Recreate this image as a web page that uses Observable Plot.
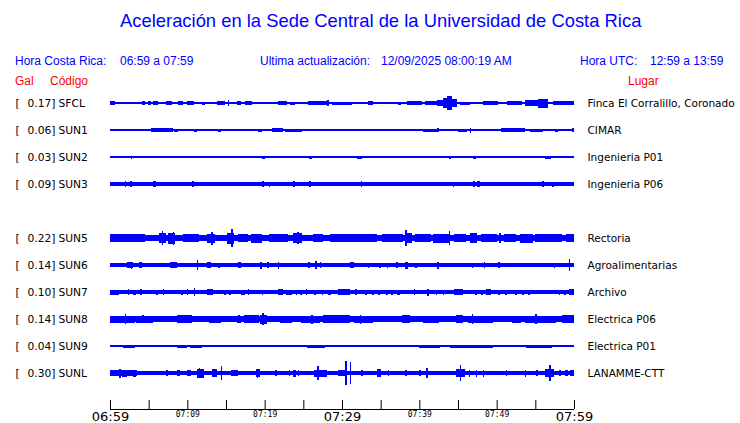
<!DOCTYPE html>
<html>
<head>
<meta charset="utf-8">
<script src="https://cdn.jsdelivr.net/npm/d3@7"></script>
<script src="https://cdn.jsdelivr.net/npm/@observablehq/plot@0.6"></script>
<style>
  html, body { margin: 0; padding: 0; background: #fff; }
  #wrap { position: relative; width: 740px; height: 423px; overflow: hidden; }
  #head { position: relative; width: 740px; height: 88px; font-family: "Liberation Sans", Arial, sans-serif; }
  #head div { position: absolute; white-space: pre; line-height: 1; }
  .blue { color: #0000ff; }
  .red { color: #ff0000; }
  #chart svg { display: block; }
</style>
</head>
<body>
<div id="wrap">
  <div id="head">
    <div class="blue" style="left:120px; top:12px; font-size:18.4px;">Aceleración en la Sede Central de la Universidad de Costa Rica</div>
    <div class="blue" style="left:15px; top:55px; font-size:12px;">Hora Costa Rica:</div>
    <div class="blue" style="left:120px; top:55px; font-size:12px;">06:59 a 07:59</div>
    <div class="blue" style="left:260px; top:55px; font-size:12px;">Ultima actualización:</div>
    <div class="blue" style="left:381px; top:55px; font-size:12px;">12/09/2025 08:00:19 AM</div>
    <div class="blue" style="left:580px; top:55px; font-size:12px;">Hora UTC:</div>
    <div class="blue" style="left:650px; top:55px; font-size:12px;">12:59 a 13:59</div>
    <div class="red" style="left:15px; top:75px; font-size:12px;">Gal</div>
    <div class="red" style="left:50px; top:75px; font-size:12px;">Código</div>
    <div class="red" style="left:628px; top:75px; font-size:12px;">Lugar</div>
  </div>
  <div id="chart"></div>
</div>
<script>
// ---- data ----
const stations = ["SFCL", "SUN1", "SUN2", "SUN3", "SUN5", "SUN6", "SUN7", "SUN8", "SUN9", "SUNL"];
const rowIndex = [0, 1, 2, 3, 5, 6, 7, 8, 9, 10];
const galValues = [0.17, 0.06, 0.03, 0.09, 0.22, 0.14, 0.10, 0.14, 0.04, 0.30];
const places = ["Finca El Corralillo, Coronado", "CIMAR", "Ingenieria P01", "Ingenieria P06",
  "Rectoria", "Agroalimentarias", "Archivo", "Electrica P06", "Electrica P01", "LANAMME-CTT"];
// background noise half-amplitude of each trace
const noiseAmp = [0.75, 0.75, 0.6, 1.8, 3.0, 1.8, 1.8, 2.8, 0.7, 2.2];
// bursts: [start minute, end minute, half-amplitude], minutes after 06:59
const burstsSFCL = [[0,0.6,2.3],[3.0,3.1,1.2],[4.1,4.5,2],[4.9,5.3,1.8],[5.6,6.2,2],[7.2,8.0,1.8],[8.8,9.4,2.2],[10.0,10.9,2.2],[11.9,12.3,1.5],[12.7,13.3,1],[13.8,14.9,2.2],[15.2,15.4,3.3],[16.4,16.9,2],[17.5,18.4,1.8],[19.1,19.3,1.2],[20.0,20.2,1.2],[20.7,21.0,1.2],[21.7,22.9,2],[23.3,23.9,1.5],[24.8,25.0,1],[25.6,28.3,1.8],[28.1,28.3,3],[28.7,30.4,1.5],[29.7,31.3,1.5],[33.4,34.0,2],[34.5,34.7,1.2],[35.5,35.7,1.2],[36.3,36.6,1.2],[37.3,37.6,1.5],[38.4,40.3,2],[40.7,42.3,2.2],[42.3,43.0,3],[43.0,43.6,5],[43.6,44.2,6.7],[44.2,44.9,4],[45.3,46.6,1.5],[47.0,47.8,1.2],[48.2,50.2,2],[51.3,53.3,2.2],[53.7,55.4,3],[55.4,56.6,4.5],[57.3,60,1.8]];
const burstsSUN1 = [[0.3,0.6,1.3],[1.5,2.0,1.3],[2.8,3.2,1.2],[3.8,4.7,1.3],[5.3,8.1,1.8],[6.5,6.9,2.3],[8.3,8.8,1.5],[9.7,10.0,1.2],[10.8,11.3,1.5],[11.9,12.2,1.2],[14.0,14.4,1.5],[15.8,16.6,1.3],[17.6,17.8,1],[19.1,19.6,1.5],[20.9,22.4,1.8],[22.0,22.3,2.4],[22.6,24.8,1.5],[25.9,26.2,1.3],[27.6,27.8,1],[28.8,29.0,1],[31.2,31.4,1.3],[33.2,33.5,1.2],[33.8,35.2,1.2],[35.7,36.2,1.2],[38.5,40.5,1.3],[40.5,42.6,1.5],[42.3,42.5,2],[45.0,46.2,1.5],[46.5,46.7,2.5],[48.0,48.4,1.3],[49.5,50.2,1.3],[50.5,53.7,1.7],[53.0,53.4,2.2],[54.3,56.0,1.5],[57.5,57.9,1.5],[59.0,59.2,1.2],[59.8,60,2]];
const burstsSUN2 = [[1.8,2.2,1.3],[2.7,2.9,1.5],[3.8,3.9,1],[10.8,11.0,1.3],[11.6,11.8,1.3],[19.6,20.0,1.5],[20.3,20.5,1.3],[23.7,23.9,1.3],[24.9,25.1,1],[25.7,26.1,1.5],[26.3,26.6,1.3],[27.0,27.1,1],[32.0,32.6,1.5],[33.3,33.4,1],[34.7,34.9,1.3],[37.7,37.9,1.3],[43.9,44.1,1.5],[44.7,45.0,1.3],[46.2,46.4,1],[47.0,47.3,1.5],[47.6,47.8,1.3],[51.6,51.8,1],[55.3,55.5,1.3],[55.8,56.0,1.3],[56.2,57.0,1.5],[59.3,59.5,1.2]];
const burstsSUN3 = [[1.9,2.1,3],[2.6,2.8,2.8],[5.6,5.9,2.8],[10.6,10.8,2.8],[19.7,19.9,3],[20.6,20.7,2.5],[23.7,23.9,2.8],[25.7,26.0,3],[32.4,32.6,3.3],[41.5,41.6,2.3],[44.3,44.5,2.5],[46.9,47.2,3.3],[47.5,47.8,2.8],[52.1,52.2,2.3],[55.8,56.1,3],[57.2,57.4,2.5]];
const burstsSUN5 = [[0,4.5,3.8],[6.4,7.2,5],[6.7,6.9,7],[7.5,8.4,5.5],[8.1,8.3,6.5],[9.5,11.5,3.6],[12.5,13.6,4.5],[13.1,13.3,6.5],[15.1,16.0,5.5],[15.7,15.9,9],[16.5,17.8,3.6],[18.2,19.6,4.5],[20.5,23.0,3.6],[23.6,24.8,5],[24.2,24.4,6.3],[26.3,27.6,4.2],[28.5,34.5,3.6],[35.2,37.9,4.2],[38.2,38.4,8],[38.4,39.0,5],[39.5,41.5,3.6],[41.8,44.0,4.5],[43.8,44.0,6.8],[44.5,46.0,3.6],[46.5,47.5,5],[48.0,50.0,3.6],[50.3,50.5,5],[51.0,52.5,3.6],[53.0,54.7,4.5],[55.0,58.5,3.7],[59.0,60,4.3]];
const burstsSUN6 = [[0,0.9,2.2],[2.2,3.0,3],[2.7,2.9,3.5],[3.8,4.1,3],[7.8,8.7,3.3],[11.2,11.4,5],[12.6,12.8,3],[12.8,13.1,3.2],[14.0,14.2,2.5],[16.5,17.0,3],[19.4,19.7,3.5],[20.3,20.5,2.8],[21.7,21.9,3.5],[25.6,25.8,2.8],[26.5,26.8,3.8],[27.1,27.3,2.8],[31.0,31.5,3],[33.3,33.5,2.5],[34.8,35.0,2.5],[35.8,36.0,2.5],[37.0,37.2,2.8],[38.2,38.5,3.5],[39.5,39.7,2.5],[42.3,42.6,3.5],[46.8,47.0,2.5],[48.3,48.5,3],[50.2,50.4,2.8],[57.4,57.6,2.5],[59.3,59.5,6]];
const burstsSUN7 = [[0,1.2,2.5],[2.3,2.5,3],[3.0,3.4,2.5],[3.9,4.1,3],[6.0,6.2,2.5],[6.8,7.0,2.8],[9.2,9.4,2.5],[9.9,10.1,2.8],[10.8,11.0,4],[12.5,13.3,3],[14.8,15.0,2.5],[15.4,15.6,2.5],[16.9,17.5,2.5],[17.8,18.0,3],[19.7,19.8,2.5],[21.7,22.4,3],[22.8,23.5,2.5],[24.0,24.2,2.5],[24.6,24.8,2.5],[25.3,25.5,2.8],[26.4,26.6,2.5],[27.4,27.6,2.5],[28.2,28.6,2.5],[29.5,31.0,2.8],[31.7,32.0,3],[33.0,33.2,2.5],[33.9,34.1,2.5],[34.7,34.9,2.5],[35.7,35.9,2.5],[36.4,36.6,2.5],[37.1,37.5,2.5],[39.3,39.5,2.8],[41.0,41.2,3.5],[42.1,42.3,2.5],[43.0,43.2,2.5],[44.5,45.7,3],[47.2,47.4,2.5],[48.0,48.2,2.5],[48.6,49.3,2.8],[50.2,50.4,2.5],[51.1,51.3,2.5],[52.4,52.6,2.5],[53.3,53.5,2.5],[54.1,54.3,2.5],[58.0,58.2,2.5],[58.7,59.0,2.5],[59.3,60,2.8]];
const burstsSUN8 = [[0,3.2,3.5],[1.9,2.1,5.2],[3.3,5.5,3.5],[4.2,4.4,4.2],[7.0,9.0,3.2],[8.7,10.6,3.8],[10.6,12.0,3.3],[12.8,14.4,3.5],[15.0,16.2,3.3],[16.4,17.0,3.5],[16.6,16.8,4.3],[17.3,19.3,3.8],[19.4,20.3,4.5],[19.7,19.9,6],[22.0,23.5,3.5],[24.7,27.2,3.5],[26.0,26.2,4.5],[27.5,31.0,3.8],[31.6,34.0,3.5],[32.3,32.5,4.5],[35.0,37.0,3.2],[37.8,38.8,3.8],[40.5,42.5,3.5],[43.0,44.5,3.2],[44.8,45.7,3.8],[46.3,49.5,3.5],[46.8,47.0,5.3],[50.0,51.5,3.2],[52.0,53.1,3.5],[53.6,57.7,3.5],[55.0,55.2,5],[58.5,60,3.8]];
const burstsSUN9 = [[0,0.3,1],[1.7,3.2,1.5],[3.8,4.0,1.2],[5.8,6.0,1.2],[6.5,6.7,1.2],[7.4,7.6,1.2],[8.7,10.0,1.5],[10.4,11.9,1.5],[14.1,14.8,1.3],[15.4,15.6,1.3],[16.5,17.0,1.3],[17.5,17.7,1.3],[18.1,18.3,1.3],[19.3,19.5,1.3],[20.0,21.0,1.3],[21.9,22.4,1.3],[22.8,23.5,1.3],[25.5,27.8,1.5],[28.8,29.5,1.3],[30.6,30.9,1.3],[32.0,34.6,1.3],[35.9,36.5,1.3],[37.8,38.7,1.3],[40.0,42.7,1.5],[44.0,49.5,1.5],[50.3,50.5,1.3],[51.8,53.4,1.3],[53.8,57.2,1.5],[58.4,60,1.3]];
const burstsSUNL = [[0,3.5,2.8],[1.1,1.4,4.5],[1.5,2.2,3.5],[3.0,3.3,3.5],[7.2,7.5,3.3],[8.7,9.0,3.3],[9.9,10.5,3.3],[11.2,12.2,4.5],[11.5,11.7,5.3],[13.2,13.9,3.8],[14.3,14.5,7.3],[15.7,16.5,3],[18.9,19.4,4],[19.0,19.2,4.5],[21.4,21.6,3],[23.1,23.3,3],[23.6,24.0,3.5],[24.3,24.5,3],[26.4,28.0,3.5],[26.8,27.0,7.3],[29.5,30.4,3.3],[30.4,30.6,11.7],[31.0,31.2,10.8],[32.5,32.7,3],[34.5,35.0,3.8],[35.9,36.1,3],[38.2,38.4,3],[40.0,40.2,3],[40.9,41.1,4.7],[44.8,45.9,4.2],[45.2,45.4,8],[46.4,46.6,3.5],[47.3,47.5,3.5],[48.2,48.4,3.5],[51.2,51.4,3],[53.6,53.8,3.5],[55.1,55.3,3],[56.3,57.4,4],[56.8,57.0,7.7],[58.0,58.3,3],[58.9,59.2,3],[59.5,60,3]];
const burstLists = [burstsSFCL, burstsSUN1, burstsSUN2, burstsSUN3, burstsSUN5, burstsSUN6, burstsSUN7, burstsSUN8, burstsSUN9, burstsSUNL];
// time axis (minutes after 06:59)
const tickMinutes = [0, 5, 10, 15, 20, 25, 30, 35, 40, 45, 50, 55, 60];
const bigTickMinutes = [0, 30, 60];
const bigTickLabels = ["06:59", "07:29", "07:59"];
const smallTickMinutes = [10, 20, 40, 50];
const smallTickLabels = ["07:09", "07:19", "07:39", "07:49"];

// ---- build tables ----
const SPACING = 27;            // amplitude units between trace baselines
const AXIS_LEVEL = 11.333 * SPACING;
const rowsData = stations.map((s, i) => ({
  code: s, base: rowIndex[i] * SPACING, gal: galValues[i], place: places[i], noise: noiseAmp[i]
}));
const burstData = [];
rowsData.forEach((r, i) => {
  burstLists[i].forEach(([a, b, amp]) => burstData.push({base: r.base, x1: a, x2: b, amp}));
});
const blue = "#0000ff";
const fmt = d3.format(".2f");

const plot = Plot.plot({
  width: 740,
  height: 335,
  marginLeft: 110,
  marginRight: 166,
  marginTop: 0,
  marginBottom: 14,
  style: {background: "#fff", overflow: "visible"},
  x: {domain: [0, 60], axis: null},
  y: {domain: [-15, AXIS_LEVEL], reverse: true, axis: null},
  marks: [
    // background noise of every trace
    Plot.rect(rowsData, {x1: 0, x2: 60, y1: d => d.base - d.noise, y2: d => d.base + d.noise,
      fill: blue, shapeRendering: "crispEdges"}),
    // bursts / events
    Plot.rect(burstData, {x1: "x1", x2: "x2", y1: d => d.base - d.amp, y2: d => d.base + d.amp,
      fill: blue, shapeRendering: "crispEdges"}),
    // left labels
    Plot.text(rowsData, {x: 0, y: "base", text: () => "[", dx: -95, textAnchor: "start",
      fontSize: 10.7, fontFamily: "DejaVu Sans", fill: "#000"}),
    Plot.text(rowsData, {x: 0, y: "base", text: d => fmt(d.gal) + "]", dx: -55, textAnchor: "end",
      fontSize: 10.7, fontFamily: "DejaVu Sans", fill: "#000"}),
    Plot.text(rowsData, {x: 0, y: "base", text: "code", dx: -52, textAnchor: "start",
      fontSize: 10.7, fontFamily: "DejaVu Sans", fill: "#000"}),
    // right labels
    Plot.text(rowsData, {x: 60, y: "base", text: "place", dx: 13, textAnchor: "start",
      fontSize: 10.5, fontFamily: "DejaVu Sans", fill: "#000"}),
    // time axis
    Plot.ruleY([AXIS_LEVEL], {x1: 0, x2: 60, stroke: "#000", strokeWidth: 1}),
    Plot.ruleX(tickMinutes, {x: d => d, y1: AXIS_LEVEL - 9, y2: AXIS_LEVEL, stroke: "#000", strokeWidth: 1}),
    Plot.axisX(bigTickMinutes, {tickSize: 0, tickPadding: 2, fontSize: 13, fontFamily: "DejaVu Sans",
      tickFormat: d => bigTickLabels[bigTickMinutes.indexOf(d)], fill: "#000"}),
    Plot.axisX(smallTickMinutes, {tickSize: 0, tickPadding: 2, fontSize: 8, fontFamily: "DejaVu Sans Mono",
      tickFormat: d => smallTickLabels[smallTickMinutes.indexOf(d)], fill: "#000"})
  ]
});
document.getElementById("chart").appendChild(plot);
</script>
</body>
</html>
